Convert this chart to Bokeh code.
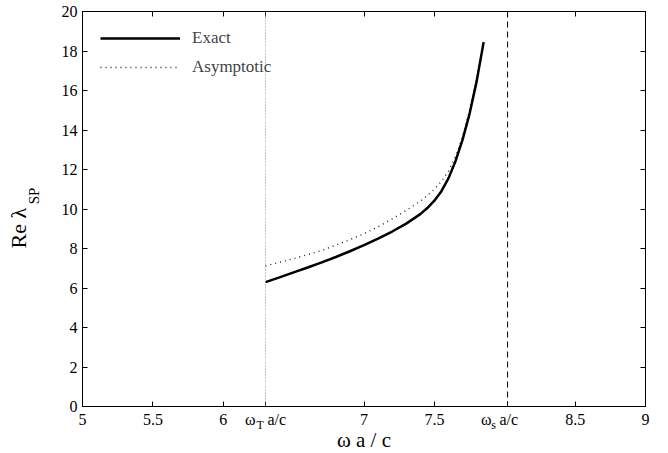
from bokeh.plotting import figure
from bokeh.models import Legend, LegendItem, LinearAxis, FixedTicker, Span
from bokeh.embed import file_html
from bokeh.resources import INLINE

# ---------------- data ----------------
omega_exact = [6.30, 6.40, 6.50, 6.60, 6.70, 6.80, 6.90, 7.00, 7.10, 7.20, 7.30,
               7.40, 7.45, 7.50, 7.55, 7.60, 7.65, 7.70, 7.75, 7.80, 7.85]
re_exact = [6.30, 6.54, 6.79, 7.04, 7.30, 7.57, 7.86, 8.17, 8.50, 8.86, 9.26,
            9.74, 10.05, 10.42, 10.90, 11.55, 12.42, 13.50, 14.82, 16.45, 18.45]

omega_asym = [6.30, 6.40, 6.50, 6.60, 6.70, 6.80, 6.90, 7.00, 7.10, 7.20, 7.30,
              7.40, 7.45, 7.50, 7.55, 7.60, 7.65, 7.70, 7.75, 7.80, 7.85]
re_asym = [7.12, 7.30, 7.49, 7.69, 7.90, 8.17, 8.45, 8.75, 9.10, 9.50, 9.93,
           10.40, 10.68, 11.00, 11.40, 11.90, 12.65, 13.65, 15.00, 16.55, 18.40]

omega_T = 6.30
omega_s = 8.02

NB = "\u00a0"
xtick_vals = [5, 5.5, 6, omega_T, 7, 7.5, omega_s, 8.5, 9]
xtick_labels = ["5", "5.5", "6", "\u03c9" + NB * 3 + "a/c", "7", "7.5",
                "\u03c9" + NB * 2 + "a/c" + NB * 4, "8.5", "9"]
sub_pos = [6.2625, 7.92]          # where the subscripts sit
sub_labels = ["T", "s"]
ytick_vals = [0, 2, 4, 6, 8, 10, 12, 14, 16, 18, 20]
xlabel = "\u03c9 a / c"
ylabel_main = "Re \u03bb"
ylabel_sub = "SP"

FONT = "Liberation Serif"

p = figure(frame_width=563, frame_height=395, x_range=(5, 9), y_range=(0, 20),
           output_backend="svg", toolbar_location=None,
           min_border_left=82, min_border_right=23, min_border_top=11,
           min_border_bottom=47)
p.grid.visible = False
p.outline_line_color = "black"
p.outline_line_width = 1
p.background_fill_color = "white"
p.border_fill_color = "white"

xticker = FixedTicker(ticks=xtick_vals)
yticker = FixedTicker(ticks=ytick_vals)
p.xaxis.ticker = xticker
p.yaxis.ticker = yticker
p.xaxis.major_label_overrides = {v: l for v, l in zip(xtick_vals, xtick_labels)}

for ax in [p.xaxis[0], p.yaxis[0]]:
    ax.major_tick_in = 5
    ax.major_tick_out = 0
    ax.minor_tick_line_color = None
    ax.axis_line_color = "black"
    ax.major_tick_line_color = "black"
    ax.major_label_text_font = FONT
    ax.major_label_text_font_size = "16px"
    ax.major_label_text_color = "black"
p.xaxis.major_label_standoff = 4
p.yaxis.major_label_standoff = 5


def blank_axis(ticker, **kw):
    a = LinearAxis(ticker=ticker, major_tick_in=0, major_tick_out=0,
                   minor_tick_line_color=None, major_label_standoff=0,
                   major_label_text_font=FONT, major_label_text_color="black",
                   axis_label_text_font=FONT, axis_label_text_color="black",
                   axis_label_text_font_style="normal")
    for k, v in kw.items():
        setattr(a, k, v)
    return a


# mirrored ticks on top and right (no labels)
top = blank_axis(xticker, major_tick_in=5, axis_line_color="black",
                 major_tick_line_color="black", major_label_text_font_size="1px")
top.major_label_overrides = {v: "" for v in xtick_vals}
right = blank_axis(yticker, major_tick_in=5, axis_line_color="black",
                   major_tick_line_color="black", major_label_text_font_size="1px")
right.major_label_overrides = {v: "" for v in ytick_vals}
p.add_layout(top, "above")
p.add_layout(right, "right")

# subscripts T / s and x-axis title
sub_ax = blank_axis(FixedTicker(ticks=sub_pos), axis_line_color=None,
                    major_tick_line_color=None,
                    major_label_text_font_size="12px",
                    major_label_standoff=-13,
                    axis_label=xlabel, axis_label_text_font_size="21px",
                    axis_label_standoff=-7)
sub_ax.major_label_overrides = {v: l for v, l in zip(sub_pos, sub_labels)}
p.add_layout(sub_ax, "below")

# y-axis title: "Re λ" with subscript "SP"
sp_ax = blank_axis(FixedTicker(ticks=[]), axis_line_color=None,
                   major_tick_line_color=None,
                   axis_label=NB * 7 + ylabel_sub,
                   axis_label_text_font_size="15px", axis_label_standoff=17)
re_ax = blank_axis(FixedTicker(ticks=[]), axis_line_color=None,
                   major_tick_line_color=None,
                   axis_label=ylabel_main + NB * 7,
                   axis_label_text_font_size="22px", axis_label_standoff=-8)
p.add_layout(sp_ax, "left")
p.add_layout(re_ax, "left")

# reference lines
p.add_layout(Span(location=omega_T, dimension="height", line_color="#888888",
                  line_width=1, line_dash="1 2"))
p.add_layout(Span(location=omega_s, dimension="height", line_color="black",
                  line_width=1, line_dash="6 4"))

r_asym = p.line(omega_asym, re_asym, line_color="#222222", line_width=1.4,
                line_dash="1 4")
r_exact = p.line(omega_exact, re_exact, line_color="black", line_width=2.5)

legend = Legend(items=[LegendItem(label="Exact", renderers=[r_exact]),
                       LegendItem(label="Asymptotic", renderers=[r_asym])],
                location=(18, 329), margin=0, padding=0,
                border_line_alpha=0, background_fill_alpha=0,
                glyph_width=80, glyph_height=20, label_height=20,
                label_standoff=12, spacing=9,
                label_text_font=FONT, label_text_font_size="17px")
p.add_layout(legend)

open("out.html", "w").write(file_html(p, INLINE))
